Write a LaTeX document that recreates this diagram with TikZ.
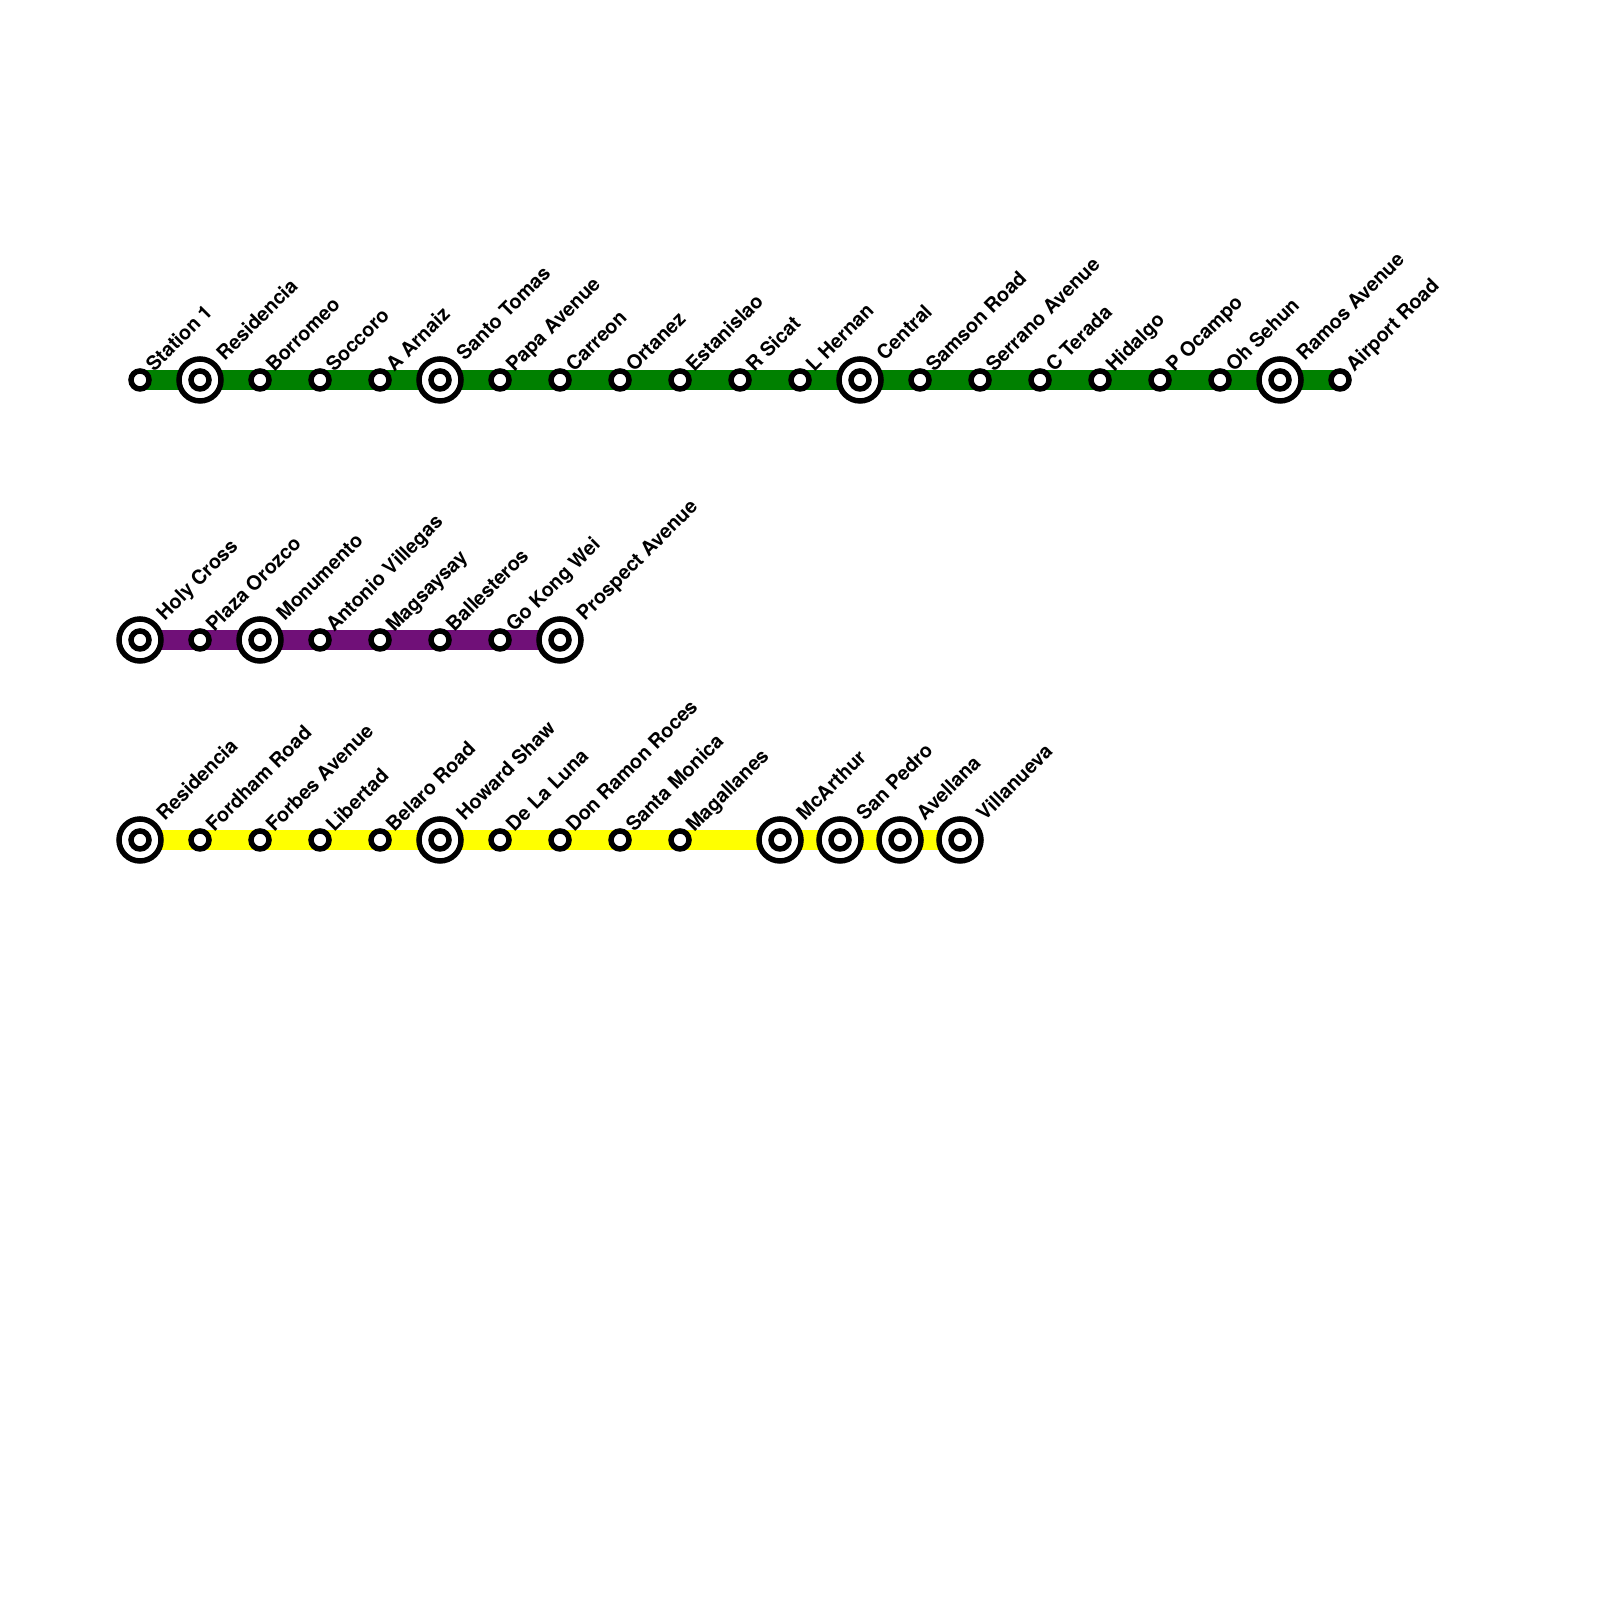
\documentclass[tikz,border=0pt]{standalone}
\usepackage{fontspec}
\setmainfont{TeX Gyre Heros}
\usetikzlibrary{backgrounds}
\definecolor{lineGreen}{RGB}{0,128,0}
\definecolor{linePurple}{RGB}{112,16,120}
\definecolor{lineYellow}{RGB}{255,255,0}
\tikzset{
    stn/.style={circle, draw=black, fill=white, line width=1.56pt, inner sep=0pt, minimum size=0.18cm},
    hub/.style={circle, draw=black, fill=white, line width=1.56pt, inner sep=0pt, minimum size=0.42cm,
        path picture={\draw[line width=1.56pt] (path picture bounding box.center) circle (0.09cm);}},
    stnlab/.style={rotate=45, anchor=base west, inner sep=0pt, xshift=0.145cm, yshift=-0.050cm, font=\fontsize{5.63}{7}\selectfont\bfseries},
    hublab/.style={rotate=45, anchor=base west, inner sep=0pt, xshift=0.300cm, yshift=-0.045cm, font=\fontsize{5.63}{7}\selectfont\bfseries},
    track/.style={line width=0.2cm}
}
\begin{document}
\begin{tikzpicture}[x=0.01cm, y=0.01cm]
    \useasboundingbox (0, 0) rectangle (1600, 1600);

    % Green line
    \foreach \x/\kind/\nm [count=\i] in {140/stn/Station 1, 200/hub/Residencia, 260/stn/Borromeo, 320/stn/Soccoro, 380/stn/A Arnaiz, 440/hub/Santo Tomas, 500/stn/Papa Avenue, 560/stn/Carreon, 620/stn/Ortanez, 680/stn/Estanislao, 740/stn/R Sicat, 800/stn/L Hernan, 860/hub/Central, 920/stn/Samson Road, 980/stn/Serrano Avenue, 1040/stn/C Terada, 1100/stn/Hidalgo, 1160/stn/P Ocampo, 1220/stn/Oh Sehun, 1280/hub/Ramos Avenue, 1340/stn/Airport Road} {
        \node[\kind] (g\i) at (\x, 1220) {};
        \node[\kind lab] (gl\i) at (g\i.center) {\nm};
    }
    \begin{scope}[on background layer]
        \draw[track, lineGreen] (g1.center) -- (g21.center);
    \end{scope}

    % Purple line
    \foreach \x/\kind/\nm [count=\i] in {140/hub/Holy Cross, 200/stn/Plaza Orozco, 260/hub/Monumento, 320/stn/Antonio Villegas, 380/stn/Magsaysay, 440/stn/Ballesteros, 500/stn/Go Kong Wei, 560/hub/Prospect Avenue} {
        \node[\kind] (p\i) at (\x, 960) {};
        \node[\kind lab] (pl\i) at (p\i.center) {\nm};
    }
    \begin{scope}[on background layer]
        \draw[track, linePurple] (p1.center) -- (p8.center);
    \end{scope}

    % Yellow line
    \foreach \x/\kind/\nm [count=\i] in {140/hub/Residencia, 200/stn/Fordham Road, 260/stn/Forbes Avenue, 320/stn/Libertad, 380/stn/Belaro Road, 440/hub/Howard Shaw, 500/stn/De La Luna, 560/stn/Don Ramon Roces, 620/stn/Santa Monica, 680/stn/Magallanes, 780/hub/McArthur, 840/hub/San Pedro, 900/hub/Avellana, 960/hub/Villanueva} {
        \node[\kind] (y\i) at (\x, 760) {};
        \node[\kind lab] (yl\i) at (y\i.center) {\nm};
    }
    \begin{scope}[on background layer]
        \draw[track, lineYellow] (y1.center) -- (y14.center);
    \end{scope}
\end{tikzpicture}
\end{document}
